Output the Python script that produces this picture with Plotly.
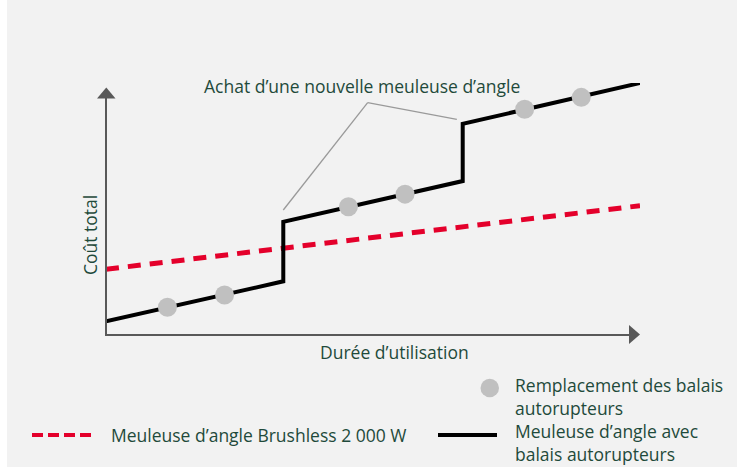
import plotly.graph_objects as go

# ---- data (abstract units: usage duration 0..10, total cost 0..10) ----
brushed_x = [0, 3.32, 3.32, 6.68, 6.68, 10]
brushed_y = [0.54, 2.13, 4.49, 6.11, 8.38, 10.0]
brushless_x = [0, 10]
brushless_y = [2.61, 5.13]
repl_x = [1.15, 2.22, 4.54, 5.60, 7.84, 8.90]
repl_y = [1.10, 1.59, 5.09, 5.59, 8.96, 9.43]

label_brushless = "Meuleuse d’angle Brushless 2 000 W"
label_brushed = "Meuleuse d’angle avec<br>balais autorupteurs"
label_repl = "Remplacement des balais<br>autorupteurs"
label_purchase = "Achat d’une nouvelle meuleuse d’angle"
x_title = "Durée d’utilisation"
y_title = "Coût total"

W, H = 737, 469
L, R, T, B = 106, 97, 83, 134
PW, PH = W - L - R, H - T - B

def px(x):
    return (x - L) / PW

def py(y):
    return (H - B - y) / PH

TXT = "#1f4a3b"
RED = "#e4002b"
GRAY = "#c0c0c0"
AX = "#595959"
FONT = "Open Sans"
FS = 17.5

fig = go.Figure()
fig.add_trace(go.Scatter(x=brushless_x, y=brushless_y, mode="lines",
                         line=dict(color=RED, width=5, dash="13px,9px"),
                         showlegend=False, hoverinfo="skip"))
fig.add_trace(go.Scatter(x=brushed_x, y=brushed_y, mode="lines",
                         line=dict(color="#000000", width=4),
                         showlegend=False, hoverinfo="skip"))
fig.add_trace(go.Scatter(x=repl_x, y=repl_y, mode="markers",
                         marker=dict(color=GRAY, size=19, line=dict(width=0)),
                         showlegend=False, hoverinfo="skip"))

shapes = []
# background panel
shapes.append(dict(type="rect", xref="paper", yref="paper", x0=px(7), x1=px(737),
                   y0=py(467), y1=py(0), fillcolor="#f2f2f2", line=dict(width=0),
                   layer="below"))
# axes
shapes.append(dict(type="line", xref="paper", yref="paper", x0=px(106), x1=px(106),
                   y0=py(335), y1=py(97), line=dict(color=AX, width=2)))
shapes.append(dict(type="line", xref="paper", yref="paper", x0=px(105), x1=px(630),
                   y0=py(335), y1=py(335), line=dict(color=AX, width=2)))
# arrow heads
shapes.append(dict(type="path", xref="paper", yref="paper",
                   path=f"M {px(97)} {py(98.5)} L {px(115.5)} {py(98.5)} L {px(106.3)} {py(87.5)} Z",
                   fillcolor=AX, line=dict(width=0)))
shapes.append(dict(type="path", xref="paper", yref="paper",
                   path=f"M {px(629)} {py(325)} L {px(629)} {py(344)} L {px(640)} {py(334.5)} Z",
                   fillcolor=AX, line=dict(width=0)))
# callout lines (data coordinates)
shapes.append(dict(type="line", xref="x", yref="y", x0=3.32, y0=4.96, x1=4.90, y1=9.22,
                   line=dict(color="#9a9a9a", width=1.3)))
shapes.append(dict(type="line", xref="x", yref="y", x0=4.90, y0=9.22, x1=6.57, y1=8.56,
                   line=dict(color="#9a9a9a", width=1.3)))
# legend samples
shapes.append(dict(type="line", xref="paper", yref="paper", x0=px(32), x1=px(92),
                   y0=py(435), y1=py(435), line=dict(color=RED, width=4, dash="11px,5px")))
shapes.append(dict(type="line", xref="paper", yref="paper", x0=px(438), x1=px(497),
                   y0=py(435), y1=py(435), line=dict(color="#000000", width=4)))
shapes.append(dict(type="circle", xref="paper", yref="paper",
                   x0=px(480.5), x1=px(499), y0=py(378.8), y1=py(397.3),
                   fillcolor=GRAY, line=dict(width=0)))

f = dict(family=FONT, size=FS, color=TXT)
ann = []

def text(t, x, y, anchor="left", angle=0):
    ann.append(dict(text=t, xref="paper", yref="paper", x=px(x), y=py(y),
                    xanchor=anchor, yanchor="middle", showarrow=False, font=f,
                    textangle=angle, align="left"))

text(label_purchase, 362, 86, "center")
text(x_title, 394, 352, "center")
text(y_title, 90, 235, "center", -90)
text(label_repl, 513, 396)
text(label_brushless, 109, 435)
text(label_brushed, 513, 442.5)

fig.update_layout(
    width=W, height=H,
    margin=dict(l=L, r=R, t=T, b=B, pad=0),
    paper_bgcolor="#ffffff", plot_bgcolor="rgba(0,0,0,0)",
    xaxis=dict(range=[0, 10], visible=False, fixedrange=True),
    yaxis=dict(range=[0, 10], visible=False, fixedrange=True),
    shapes=shapes, annotations=ann, showlegend=False,
    font=dict(family=FONT),
)

fig.write_html("out.html", config=dict(displayModeBar=False),
               post_script="document.body.style.margin='0px';document.body.style.overflow='hidden';")
